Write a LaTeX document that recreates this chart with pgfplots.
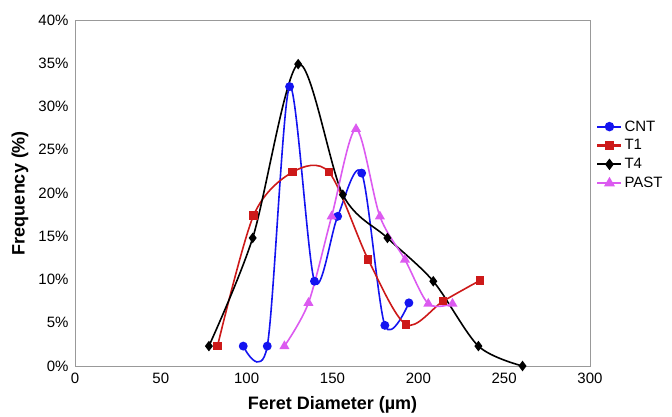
\documentclass[border=0pt]{standalone}
\usepackage{pgfplots}
\pgfplotsset{compat=1.18}
\usepackage{fontspec}
\setmainfont{Liberation Sans}
\definecolor{cnt}{RGB}{20,20,240}
\definecolor{tone}{RGB}{205,25,25}
\definecolor{past}{RGB}{220,90,240}
\begin{document}
\begin{tikzpicture}
\path[use as bounding box] (-75pt,-51pt) rectangle (597pt,366pt);
\begin{axis}[
    at={(0,0)}, anchor=south west,
    scale only axis,
    width=515pt, height=346pt,
    xmin=0, xmax=300, ymin=0, ymax=40,
    xtick={0,50,...,300},
    ytick={0,5,...,40},
    yticklabels={0\%,5\%,10\%,15\%,20\%,25\%,30\%,35\%,40\%},
    /pgf/number format/assume math mode=true,
    tick label style={font=\fontsize{15}{17}\selectfont},
    xticklabel style={yshift=-3pt},
    yticklabel style={xshift=-3pt},
    major tick length=0pt,
    axis line style={draw=gray!80},
    xlabel={\textbf{Feret Diameter (µm)}},
    ylabel={\textbf{Frequency (\%)}},
    every axis x label/.style={at={(rel axis cs:0.5,0)}, anchor=center, yshift=-39pt,
        font=\fontsize{18}{20}\selectfont},
    every axis y label/.style={at={(rel axis cs:0,0.5)}, anchor=center, rotate=90, yshift=55pt,
        font=\fontsize{18}{20}\selectfont},
    legend style={draw=none, fill=none, at={(1.012,0.61)}, anchor=west,
        font=\fontsize{15}{17}\selectfont, row sep=3pt,
        inner sep=0pt},
    legend cell align=left,
    legend image code/.code={\draw[line width=2.2pt, mark repeat=2, mark phase=2]
        plot coordinates {(0pt,0pt) (12pt,0pt) (24pt,0pt)};},
    every axis plot/.append style={line width=1.6pt, smooth, tension=0.5},
]
\addplot[cnt, mark=*, mark size=3.6pt] coordinates {
(98,2.3) (112,2.3) (125,32.3) (139.5,9.8) (153,17.3) (167,22.3) (180.5,4.7) (194.5,7.3)};
\addlegendentry{CNT}
\addplot[tone, mark=square*, mark size=3.4pt] coordinates {
(83,2.3) (104,17.4) (126.6,22.4) (148,22.4) (170.8,12.3) (192.8,4.8) (214.5,7.5) (236,9.9)};
\addlegendentry{T1}
\addplot[black, mark=diamond*, mark size=4pt] coordinates {
(78,2.3) (103.5,14.8) (130,34.9) (156,19.8) (182,14.8) (208.7,9.8) (235,2.3) (260.7,0)};
\addlegendentry{T4}
\addplot[past, mark=triangle*, mark size=4.2pt] coordinates {
(122,2.3) (136,7.3) (149.5,17.3) (163.7,27.4) (177.6,17.3) (192.2,12.3) (205.8,7.2) (219.9,7.2)};
\addlegendentry{PAST}
\end{axis}
\end{tikzpicture}
\end{document}
